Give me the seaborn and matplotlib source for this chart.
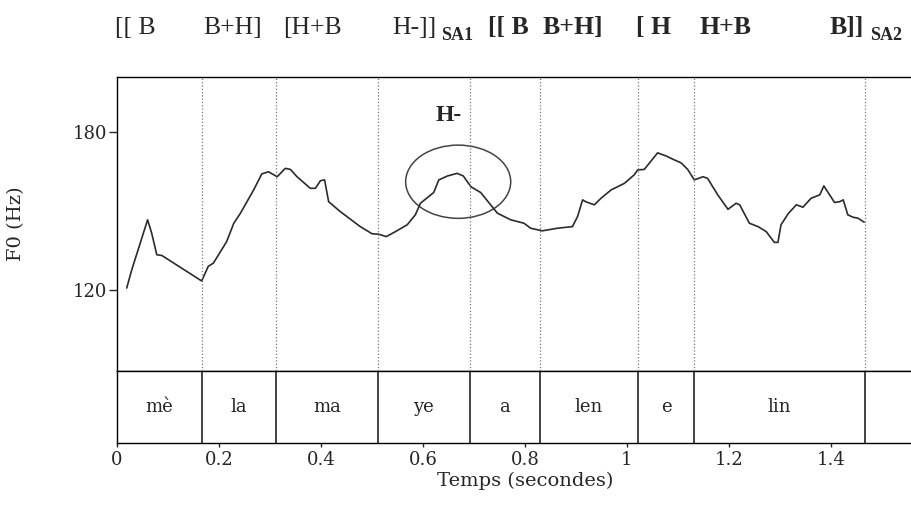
import numpy as np
import pandas as pd
import matplotlib
matplotlib.use('Agg')
import matplotlib.pyplot as plt
import matplotlib.transforms as mtransforms
from matplotlib.patches import Ellipse
from matplotlib.ticker import FuncFormatter
import seaborn as sns

# Courbe de F0 (temps en secondes, F0 en Hz)
temps = [0.019, 0.029, 0.060, 0.068, 0.078, 0.088, 0.166, 0.179, 0.189, 0.215,
         0.229, 0.242, 0.268, 0.284, 0.297, 0.314, 0.330, 0.340, 0.353, 0.379,
         0.389, 0.399, 0.407, 0.415, 0.438, 0.477, 0.500, 0.513, 0.528, 0.546,
         0.569, 0.585, 0.595, 0.621, 0.631, 0.648, 0.667, 0.679, 0.694, 0.713,
         0.746, 0.772, 0.798, 0.811, 0.834, 0.864, 0.893, 0.903, 0.913, 0.919,
         0.936, 0.949, 0.969, 0.995, 1.014, 1.021, 1.034, 1.060, 1.077, 1.093,
         1.106, 1.119, 1.132, 1.149, 1.158, 1.178, 1.198, 1.214, 1.221, 1.240,
         1.257, 1.273, 1.289, 1.296, 1.302, 1.316, 1.332, 1.345, 1.361, 1.378,
         1.386, 1.407, 1.417, 1.424, 1.433, 1.443, 1.453, 1.465]
f0 = [120.6, 127.6, 146.6, 141.5, 133.3, 133.0, 123.3, 128.9, 130.1, 138.3,
      145.3, 149.1, 158.0, 164.1, 164.9, 163.0, 166.2, 165.8, 163.0, 158.6,
      158.6, 161.5, 161.8, 153.5, 149.7, 144.0, 141.3, 141.1, 140.2, 142.1,
      144.7, 148.5, 152.9, 157.0, 161.8, 163.3, 164.3, 163.3, 159.2, 157.0,
      149.1, 146.6, 145.3, 143.4, 142.4, 143.4, 144.0, 147.8, 154.2, 153.5,
      152.3, 154.8, 158.0, 160.5, 163.7, 165.6, 165.8, 172.1, 170.9, 169.4,
      168.3, 165.8, 161.8, 163.0, 162.4, 156.1, 150.6, 152.9, 152.3, 145.3,
      144.0, 142.1, 138.0, 138.0, 144.7, 148.9, 152.3, 151.4, 154.8, 156.1,
      159.5, 153.2, 153.5, 154.2, 148.5, 147.6, 147.2, 145.7]

# Syllabes et frontieres
syllabes = ['mè', 'la', 'ma', 'ye', 'a', 'len', 'e', 'lin']
frontieres = [0, 0.167, 0.312, 0.511, 0.692, 0.829, 1.022, 1.132, 1.466]

# Etiquettes tonales en haut
tons_sa1 = ['[[ B', 'B+H]', '[H+B', 'H-]]']
pos_sa1 = [-0.004, 0.169, 0.325, 0.539]
tons_sa2 = ['[[ B', 'B+H]', '[ H', 'H+B', 'B]]']
pos_sa2 = [0.727, 0.835, 1.018, 1.143, 1.398]
sous = ['SA1', 'SA2']
pos_sous = [0.636, 1.476]

x_ticks = [0, 0.2, 0.4, 0.6, 0.8, 1.0, 1.2, 1.4]
y_ticks = [120, 180]

df = pd.DataFrame({'temps': temps, 'f0': f0})

sns.set_style('white')
plt.rcParams['font.family'] = ['DejaVu Serif']

fig = plt.figure(figsize=(9.12, 5.13), dpi=100)
ax = fig.add_axes([0.1283, 0.2768, 0.8947, 0.5731])
ax2 = fig.add_axes([0.1283, 0.1365, 0.8947, 0.1404], sharex=ax)

# Courbe F0
sns.lineplot(data=df, x='temps', y='f0', ax=ax, color='#2b2b2b', linewidth=1.2)
for x in frontieres[1:]:
    ax.axvline(x, color='#777777', linestyle=':', linewidth=0.9)

ax.set_xlim(0, 1.6)
ax.set_ylim(89, 201)
ax.set_yticks(y_ticks)
ax.tick_params(axis='y', direction='out', length=6, width=1, labelsize=13, pad=1, left=True)
ax.tick_params(axis='x', bottom=False, labelbottom=False)
ax.set_xlabel('')
ax.set_ylabel('F0 (Hz)', fontsize=14)
ax.yaxis.set_label_coords(-0.113, 0.5)

# Cercle autour du H-
ax.add_patch(Ellipse((0.669, 161.1), 0.206, 27.9, fill=False, edgecolor='#444444', linewidth=1.1))
ax.text(0.650, 186.5, 'H-', family='Liberation Serif', fontweight='bold', fontsize=17,
        ha='center', va='center')

# Etiquettes en haut
trans = mtransforms.blended_transform_factory(ax.transData, ax.transAxes)
for t, x in zip(tons_sa1, pos_sa1):
    ax.text(x, 1.146, t, transform=trans, family='Liberation Serif', fontsize=18.5,
            ha='left', va='baseline', clip_on=False)
for t, x in zip(tons_sa2, pos_sa2):
    ax.text(x, 1.146, t, transform=trans, family='Liberation Serif', fontsize=18.5,
            fontweight='bold', ha='left', va='baseline', clip_on=False)
for t, x in zip(sous, pos_sous):
    ax.text(x, 1.126, t, transform=trans, family='Liberation Serif', fontsize=13,
            fontweight='bold', ha='left', va='baseline', clip_on=False)

# Tier des syllabes
for x in frontieres[1:]:
    ax2.axvline(x, color='#222222', linewidth=1.2)
for i, s in enumerate(syllabes):
    ax2.text((frontieres[i] + frontieres[i + 1]) / 2, 0.5, s, fontsize=13,
             ha='center', va='center')
ax2.set_ylim(0, 1)
ax2.set_yticks([])
ax2.set_xticks(x_ticks)
ax2.xaxis.set_major_formatter(FuncFormatter(lambda v, p: f'{v:g}'))
ax2.tick_params(axis='x', direction='out', length=3, width=1, labelsize=13, pad=3, bottom=True)
ax2.set_xlabel('Temps (secondes)', fontsize=14, labelpad=2)

for a in (ax, ax2):
    for sp in a.spines.values():
        sp.set_color('black')
        sp.set_linewidth(1)

fig.savefig('out.png', dpi=100)
